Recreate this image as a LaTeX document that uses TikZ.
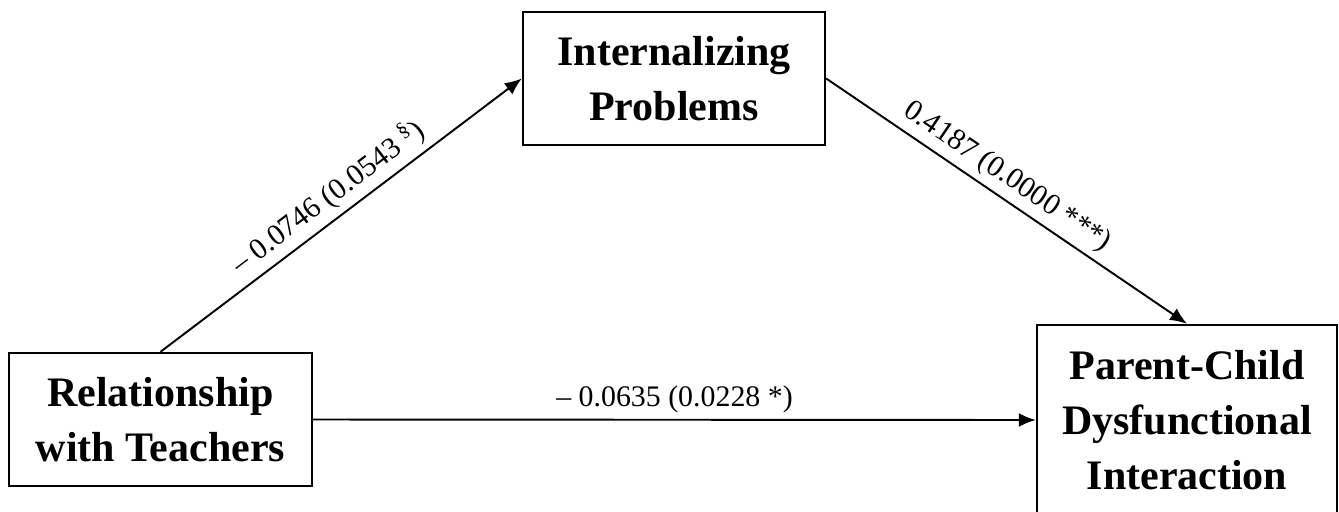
\documentclass[tikz,border=0pt]{standalone}
\usepackage{fontspec}
\setmainfont{Liberation Serif}
\usetikzlibrary{arrows.meta}

\begin{document}
\begin{tikzpicture}[x=0.02cm, y=-0.02cm,
    var/.style={draw, line width=1.4pt, align=center, inner sep=0pt,
      font=\fontsize{23.9}{31.3}\selectfont\bfseries},
    effect/.style={line width=1.1pt, -{Latex[length=0.34cm, width=0.28cm]}},
    coef/.style={font=\fontsize{17}{20}\selectfont}]
  \useasboundingbox (0, 0) rectangle (1339, 511);
  \clip (0, 0) rectangle (1339, 511);
  \node [var, minimum width=6.06cm, minimum height=2.66cm] (teach)
    at (160.5, 419.5) {Relationship\\with Teachers};
  \node [var, minimum width=6.04cm, minimum height=2.66cm] (intern)
    at (674, 78.5) {Internalizing\\Problems};
  \node [var, minimum width=6.0cm, minimum height=3.8cm] (parent)
    at (1187, 420) {Parent-Child\\Dysfunctional\\Interaction};
  \draw [effect] (teach.north) -- (intern.west)
    node [coef, midway, sloped, above] {– 0.0746 (0.0543 \textsuperscript{\S})};
  \draw [effect] (intern.east) -- (parent.north)
    node [coef, pos=0.47, sloped, above] {0.4187 (0.0000 ***)};
  \draw [effect] (teach.east) -- (parent.west)
    node [coef, midway, above] {– 0.0635 (0.0228 *)};
\end{tikzpicture}
\end{document}
